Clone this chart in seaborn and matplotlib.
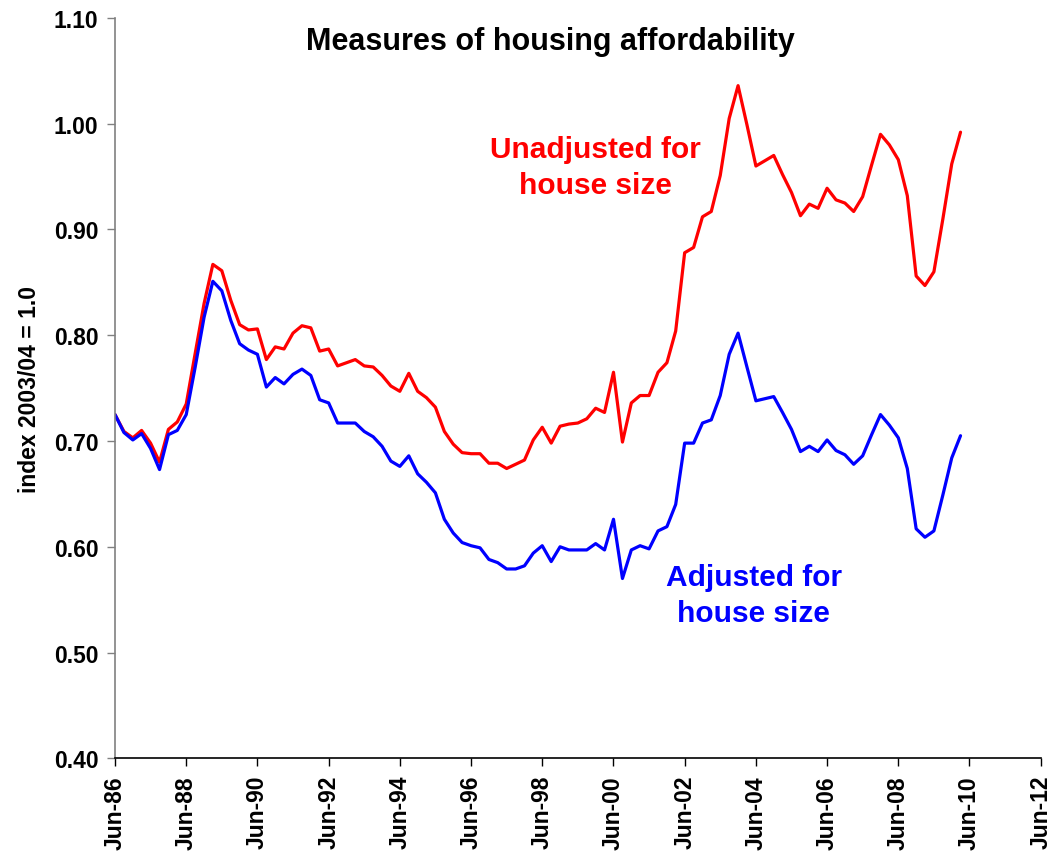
import pandas as pd
import matplotlib
matplotlib.use('Agg')
import matplotlib.pyplot as plt
import matplotlib.dates as mdates
import seaborn as sns

# quarterly index values, Jun-86 .. Mar-10
unadjusted = [0.725, 0.709, 0.703, 0.710, 0.698, 0.680, 0.711, 0.718, 0.735, 0.783,
              0.830, 0.867, 0.861, 0.833, 0.810, 0.805, 0.806, 0.777, 0.789, 0.787,
              0.802, 0.809, 0.807, 0.785, 0.787, 0.771, 0.774, 0.777, 0.771, 0.770,
              0.762, 0.752, 0.747, 0.764, 0.747, 0.741, 0.732, 0.709, 0.697, 0.689,
              0.688, 0.688, 0.679, 0.679, 0.674, 0.678, 0.682, 0.701, 0.713, 0.698,
              0.714, 0.716, 0.717, 0.721, 0.731, 0.727, 0.765, 0.699, 0.736, 0.743,
              0.743, 0.765, 0.774, 0.804, 0.878, 0.883, 0.912, 0.917, 0.951, 1.005,
              1.036, 0.999, 0.960, 0.965, 0.970, 0.952, 0.935, 0.913, 0.924, 0.920,
              0.939, 0.928, 0.925, 0.917, 0.931, 0.961, 0.990, 0.980, 0.966, 0.932,
              0.856, 0.847, 0.860, 0.910, 0.962, 0.992]

adjusted = [0.725, 0.708, 0.701, 0.707, 0.693, 0.673, 0.706, 0.710, 0.725, 0.770,
            0.817, 0.851, 0.842, 0.814, 0.792, 0.786, 0.782, 0.751, 0.760, 0.754,
            0.763, 0.768, 0.762, 0.739, 0.736, 0.717, 0.717, 0.717, 0.709, 0.704,
            0.695, 0.681, 0.676, 0.686, 0.669, 0.661, 0.651, 0.626, 0.613, 0.604,
            0.601, 0.599, 0.588, 0.585, 0.579, 0.579, 0.582, 0.594, 0.601, 0.586,
            0.600, 0.597, 0.597, 0.597, 0.603, 0.597, 0.626, 0.570, 0.597, 0.601,
            0.598, 0.615, 0.619, 0.640, 0.698, 0.698, 0.717, 0.720, 0.743, 0.782,
            0.802, 0.770, 0.738, 0.740, 0.742, 0.727, 0.711, 0.690, 0.695, 0.690,
            0.701, 0.691, 0.687, 0.678, 0.686, 0.706, 0.725, 0.715, 0.703, 0.674,
            0.617, 0.609, 0.615, 0.649, 0.684, 0.705]

dates = pd.date_range('1986-06-01', periods=len(unadjusted), freq='3MS')

df = pd.DataFrame({
    'date': list(dates) * 2,
    'value': unadjusted + adjusted,
    'series': ['Unadjusted'] * len(dates) + ['Adjusted'] * len(dates),
})

sns.set_style('white')
plt.rcParams['font.family'] = ['Liberation Sans', 'DejaVu Sans']
plt.rcParams['font.weight'] = 'bold'
plt.rcParams['text.color'] = 'black'
plt.rcParams['axes.labelcolor'] = 'black'
plt.rcParams['xtick.color'] = 'black'
plt.rcParams['ytick.color'] = 'black'

fig = plt.figure(figsize=(10.52, 8.54), dpi=100)
ax = fig.add_axes([0.1093, 0.1109, 0.8800, 0.8669])

sns.lineplot(data=df, x='date', y='value', hue='series',
             palette={'Unadjusted': '#ff0000', 'Adjusted': '#0000ff'},
             linewidth=2.3, legend=False, ax=ax)

ax.set_xlim(pd.Timestamp('1986-06-01'), pd.Timestamp('2012-06-01'))
ax.set_ylim(0.40, 1.10)
ax.set_yticks([0.40, 0.50, 0.60, 0.70, 0.80, 0.90, 1.00, 1.10])
ax.yaxis.set_major_formatter(matplotlib.ticker.FormatStrFormatter('%.2f'))
ax.xaxis.set_major_locator(mdates.MonthLocator(bymonth=6, bymonthday=1, interval=24))
ax.xaxis.set_major_formatter(mdates.DateFormatter('%b-%y'))

for s in ['top', 'right']:
    ax.spines[s].set_visible(False)
ax.spines['left'].set_color('#808080')
ax.spines['bottom'].set_color('black')
ax.spines['left'].set_linewidth(1.2)
ax.spines['bottom'].set_linewidth(1.2)

ax.tick_params(axis='y', which='major', direction='out', length=6, width=1,
               color='#808080', labelcolor='black', pad=6, labelsize=16.5, left=True)
ax.tick_params(axis='x', which='major', direction='out', length=6, width=1,
               color='black', labelcolor='black', pad=6, labelsize=16.5,
               labelrotation=90, bottom=True)
for lab in ax.get_xticklabels() + ax.get_yticklabels():
    lab.set_fontweight('bold')

ax.set_xlabel('')
ax.set_ylabel('index 2003/04 = 1.0', fontsize=16.5, fontweight='bold', color='black')
ax.yaxis.set_label_coords(-0.080, 0.50)

fig.text(0.523, 0.951, 'Measures of housing affordability', ha='center', va='center',
         fontsize=22, fontweight='bold', color='black')

ax.text(0.519, 0.799, 'Unadjusted for\nhouse size', transform=ax.transAxes,
        ha='center', va='center', color='#ff0000', fontsize=21.5, fontweight='bold',
        linespacing=1.35)
ax.text(0.690, 0.2206, 'Adjusted for\nhouse size', transform=ax.transAxes,
        ha='center', va='center', color='#0000ff', fontsize=21.5, fontweight='bold',
        linespacing=1.35)

fig.savefig('out.png', dpi=100)
